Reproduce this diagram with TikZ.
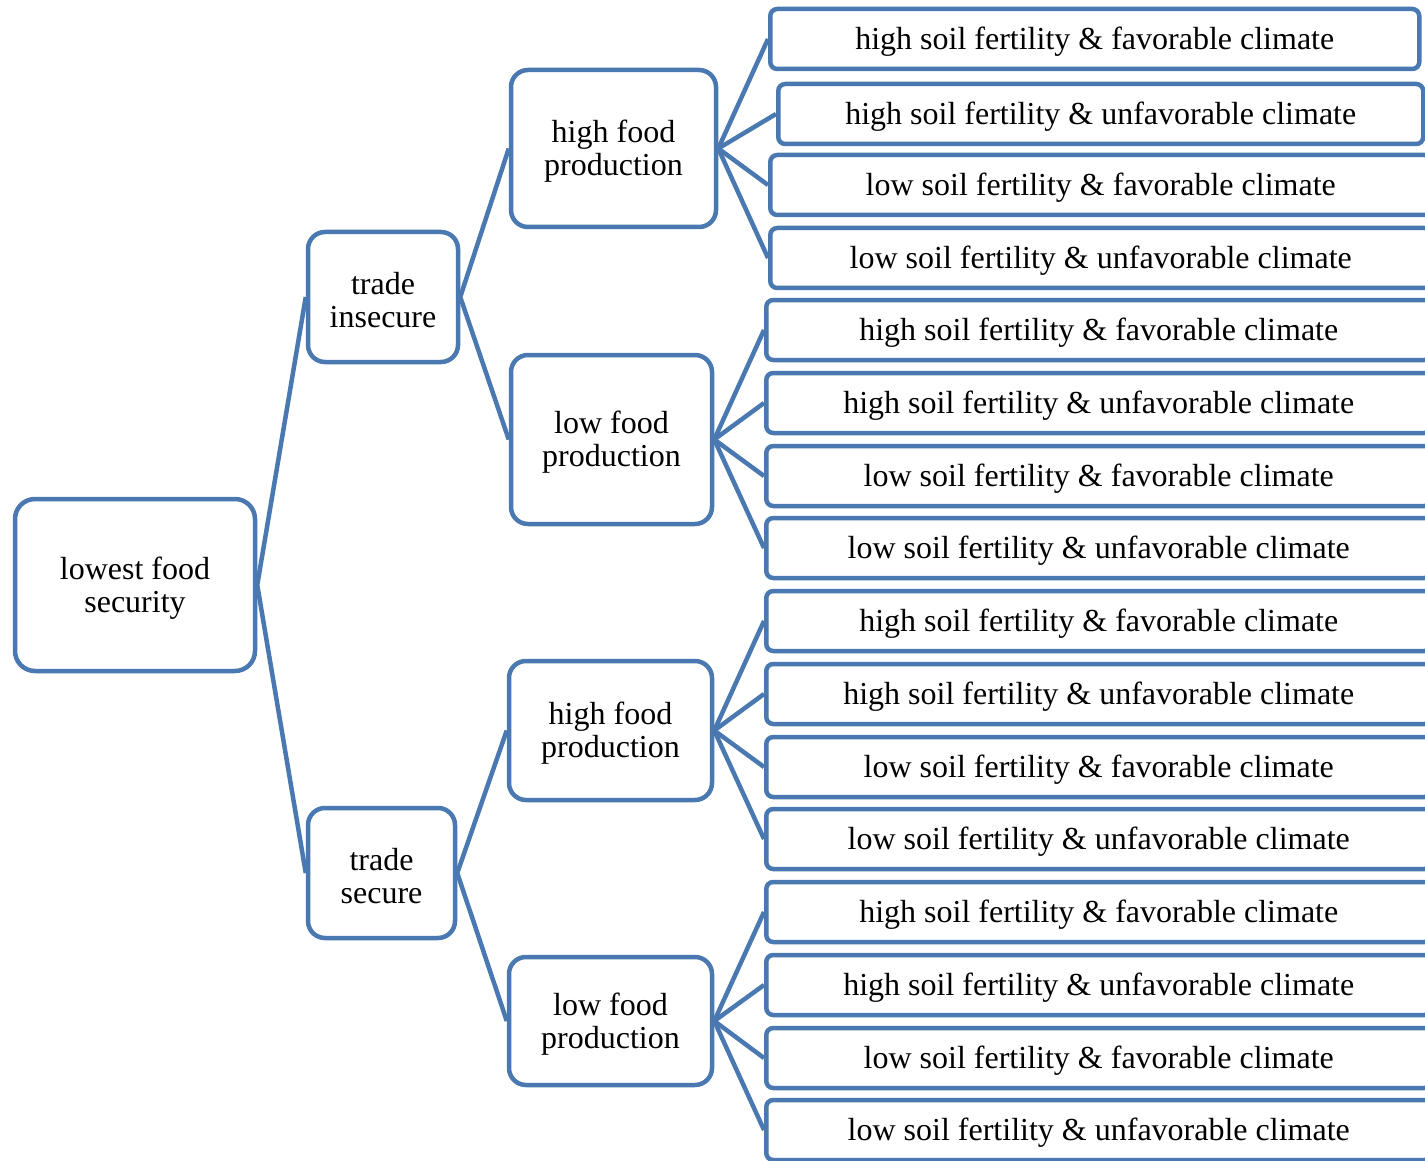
\documentclass[tikz,border=0pt]{standalone}
\usepackage{fontspec}
\setmainfont{Liberation Serif}
\definecolor{edgeblue}{RGB}{74,120,176}
% raises the first text line's height so the text sits a little lower in its box
\newcommand\tallstart{\rule{0pt}{28pt}}
\begin{document}
\begin{tikzpicture}[x=1pt,y=-1pt,
  every node/.style={font=\fontsize{32}{33}\selectfont, align=center, inner sep=0pt},
  bigbox/.style={draw=edgeblue, line width=4.5pt, fill=white, rounded corners=20pt},
  midbox/.style={draw=edgeblue, line width=4.5pt, fill=white, rounded corners=17pt},
  leafbox/.style={draw=edgeblue, line width=4.5pt, fill=white, rounded corners=7pt,
    anchor=west, minimum height=60pt},
  conn/.style={draw=edgeblue, line width=4.5pt}]
\useasboundingbox (0,0) rectangle (1425,1161);
\clip (0,0) rectangle (1425,1161);

% root and trade level
\node[bigbox, minimum width=240pt, minimum height=172pt] (root) at (135,585) {\tallstart lowest food\\security};
\node[midbox, minimum width=150pt, minimum height=130pt] (ti) at (383,297) {\tallstart trade\\insecure};
\node[midbox, minimum width=147pt, minimum height=130pt] (ts) at (381.5,873) {\tallstart trade\\secure};

% production level
\node[midbox, minimum width=205pt, minimum height=157pt] (ih) at (613.5,148.5) {\tallstart high food\\production};
\node[midbox, minimum width=201pt, minimum height=169pt] (il) at (611.5,439.5) {\tallstart low food\\production};
\node[midbox, minimum width=203pt, minimum height=139pt] (sh) at (610.5,730.5) {\tallstart high food\\production};
\node[midbox, minimum width=203pt, minimum height=128pt] (sl) at (610.5,1021) {\tallstart low food\\production};

% soil / climate level
\node[leafbox, minimum width=649pt] (a1) at (768,39) {\tallstart high soil fertility \& favorable climate};
\node[leafbox, minimum width=645pt] (a2) at (776,114) {\tallstart high soil fertility \& unfavorable climate};
\node[leafbox, minimum width=661pt] (a3) at (768,185) {\tallstart low soil fertility \& favorable climate};
\node[leafbox, minimum width=661pt] (a4) at (768,258) {\tallstart low soil fertility \& unfavorable climate};

\node[leafbox, minimum width=665pt] (b1) at (764,330) {\tallstart high soil fertility \& favorable climate};
\node[leafbox, minimum width=665pt] (b2) at (764,403) {\tallstart high soil fertility \& unfavorable climate};
\node[leafbox, minimum width=665pt] (b3) at (764,476) {\tallstart low soil fertility \& favorable climate};
\node[leafbox, minimum width=665pt] (b4) at (764,548) {\tallstart low soil fertility \& unfavorable climate};

\node[leafbox, minimum width=665pt] (c1) at (764,621) {\tallstart high soil fertility \& favorable climate};
\node[leafbox, minimum width=665pt] (c2) at (764,694) {\tallstart high soil fertility \& unfavorable climate};
\node[leafbox, minimum width=665pt] (c3) at (764,767) {\tallstart low soil fertility \& favorable climate};
\node[leafbox, minimum width=665pt] (c4) at (764,839) {\tallstart low soil fertility \& unfavorable climate};

\node[leafbox, minimum width=665pt] (d1) at (764,912) {\tallstart high soil fertility \& favorable climate};
\node[leafbox, minimum width=665pt] (d2) at (764,985) {\tallstart high soil fertility \& unfavorable climate};
\node[leafbox, minimum width=665pt] (d3) at (764,1058) {\tallstart low soil fertility \& favorable climate};
\node[leafbox, minimum width=665pt] (d4) at (764,1130) {\tallstart low soil fertility \& unfavorable climate};

% connectors
\draw[conn] (ti.west) -- (root.east) -- (ts.west);
\draw[conn] (ih.west) -- (ti.east) -- (il.west);
\draw[conn] (sh.west) -- (ts.east) -- (sl.west);
\foreach \p/\q in {ih/a, il/b, sh/c, sl/d}{
  \foreach \i in {1,...,4}{
    \draw[conn] (\p.east) -- (\q\i.west);
  }
}
\end{tikzpicture}
\end{document}
